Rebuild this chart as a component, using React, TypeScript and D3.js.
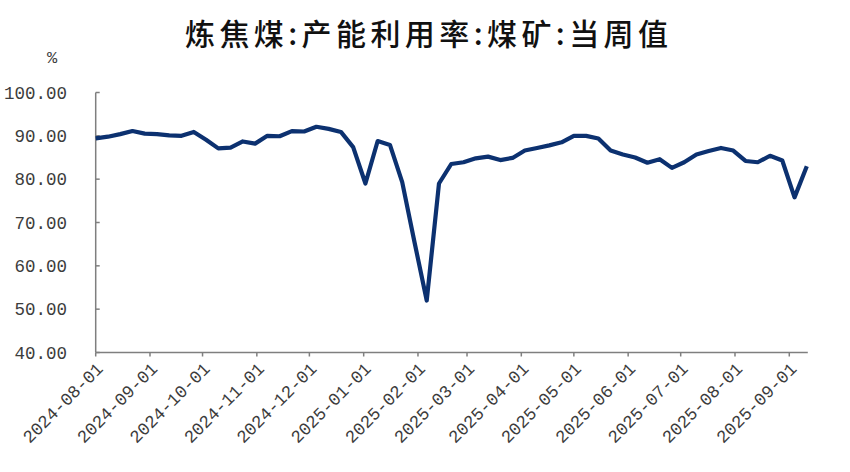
import React from 'react';
import * as d3 from 'd3';

const title = '炼焦煤:产能利用率:煤矿:当周值';
const unitLabel = '%';
const firstDate = '2024-08-01';
const lastAxisDate = '2025-09-11';
const values: number[] = [
  89.4, 89.8, 90.4, 91.1, 90.5, 90.4, 90.1, 90.0, 90.9, 89.1,
  87.1, 87.3, 88.7, 88.2, 90.0, 89.9, 91.1, 91.0, 92.1, 91.6,
  90.9, 87.4, 79.0, 88.8, 87.9, 79.3, 65.5, 52.0, 79.0, 83.5,
  83.9, 84.8, 85.2, 84.4, 84.9, 86.6, 87.2, 87.8, 88.5, 90.0,
  90.0, 89.4, 86.6, 85.7, 85.0, 83.8, 84.6, 82.6, 83.9, 85.7,
  86.5, 87.2, 86.6, 84.2, 83.9, 85.4, 84.3, 75.8, 83.0,
];
const yTicks: number[] = [40, 50, 60, 70, 80, 90, 100];
const xTickLabels: string[] = [
  '2024-08-01', '2024-09-01', '2024-10-01', '2024-11-01', '2024-12-01',
  '2025-01-01', '2025-02-01', '2025-03-01', '2025-04-01', '2025-05-01',
  '2025-06-01', '2025-07-01', '2025-08-01', '2025-09-01',
];

export default function App() {
  const W = 850;
  const H = 472;
  const parse = d3.timeParse('%Y-%m-%d');
  const start = parse(firstDate) as Date;
  const end = parse(lastAxisDate) as Date;
  const dates = values.map((_, i) => d3.timeDay.offset(start, 7 * i));
  const left = 95.7;
  const right = 806.8;
  const x = d3.scaleTime().domain([start, end]).range([left, right]);
  const y = d3.scaleLinear().domain([40, 100]).range([352.5, 92.5]);
  const line = d3
    .line<number>()
    .x((_, i) => x(dates[i]))
    .y((d) => y(d))
    .curve(d3.curveLinear);

  const axisColor = '#7f7f7f';
  const textColor = '#3c3c3c';
  const monoFont = '"Liberation Mono", "DejaVu Sans Mono", monospace';

  return (
    <svg
      width={W}
      height={H}
      style={{ position: 'absolute', left: 0, top: 0, background: '#fff' }}
    >
      <text
        x={426.5}
        y={45}
        textAnchor="middle"
        fontFamily='"Noto Sans CJK SC", sans-serif'
        fontSize={30}
        fontWeight={500}
        fill="#111"
        textLength={483}
        lengthAdjust="spacing"
      >
        {title}
      </text>
      <text
        x={52}
        y={63}
        textAnchor="middle"
        fontFamily={monoFont}
        fontSize={17}
        fill={textColor}
      >
        {unitLabel}
      </text>

      {/* y axis */}
      <line
        x1={left}
        x2={left}
        y1={y(100)}
        y2={y(40)}
        stroke={axisColor}
        strokeWidth={1.5}
      />
      {yTicks.map((t) => (
        <g key={t}>
          <line
            x1={left}
            x2={left + 4}
            y1={y(t)}
            y2={y(t)}
            stroke={axisColor}
            strokeWidth={1.5}
          />
          <text
            x={67}
            y={y(t)}
            dy="0.35em"
            textAnchor="end"
            fontFamily={monoFont}
            fontSize={17.5}
            fill={textColor}
          >
            {t.toFixed(2)}
          </text>
        </g>
      ))}

      {/* x axis */}
      <line
        x1={left}
        x2={right + 1}
        y1={y(40)}
        y2={y(40)}
        stroke={axisColor}
        strokeWidth={1.5}
      />
      {xTickLabels.map((lbl) => {
        const d = parse(lbl) as Date;
        const tx = x(d);
        return (
          <g key={lbl}>
            <line
              x1={tx}
              x2={tx}
              y1={y(40)}
              y2={y(40) + 4}
              stroke={axisColor}
              strokeWidth={1.5}
            />
            <text
              transform={`translate(${tx + 4},${y(40) + 13}) rotate(-45)`}
              textAnchor="end"
              dy="0.35em"
              fontFamily={monoFont}
              fontSize={17.5}
              fill={textColor}
            >
              {lbl}
            </text>
          </g>
        );
      })}

      <path
        d={line(values) || ''}
        fill="none"
        stroke="#0c3170"
        strokeWidth={4.2}
        strokeLinejoin="round"
      />
    </svg>
  );
}
